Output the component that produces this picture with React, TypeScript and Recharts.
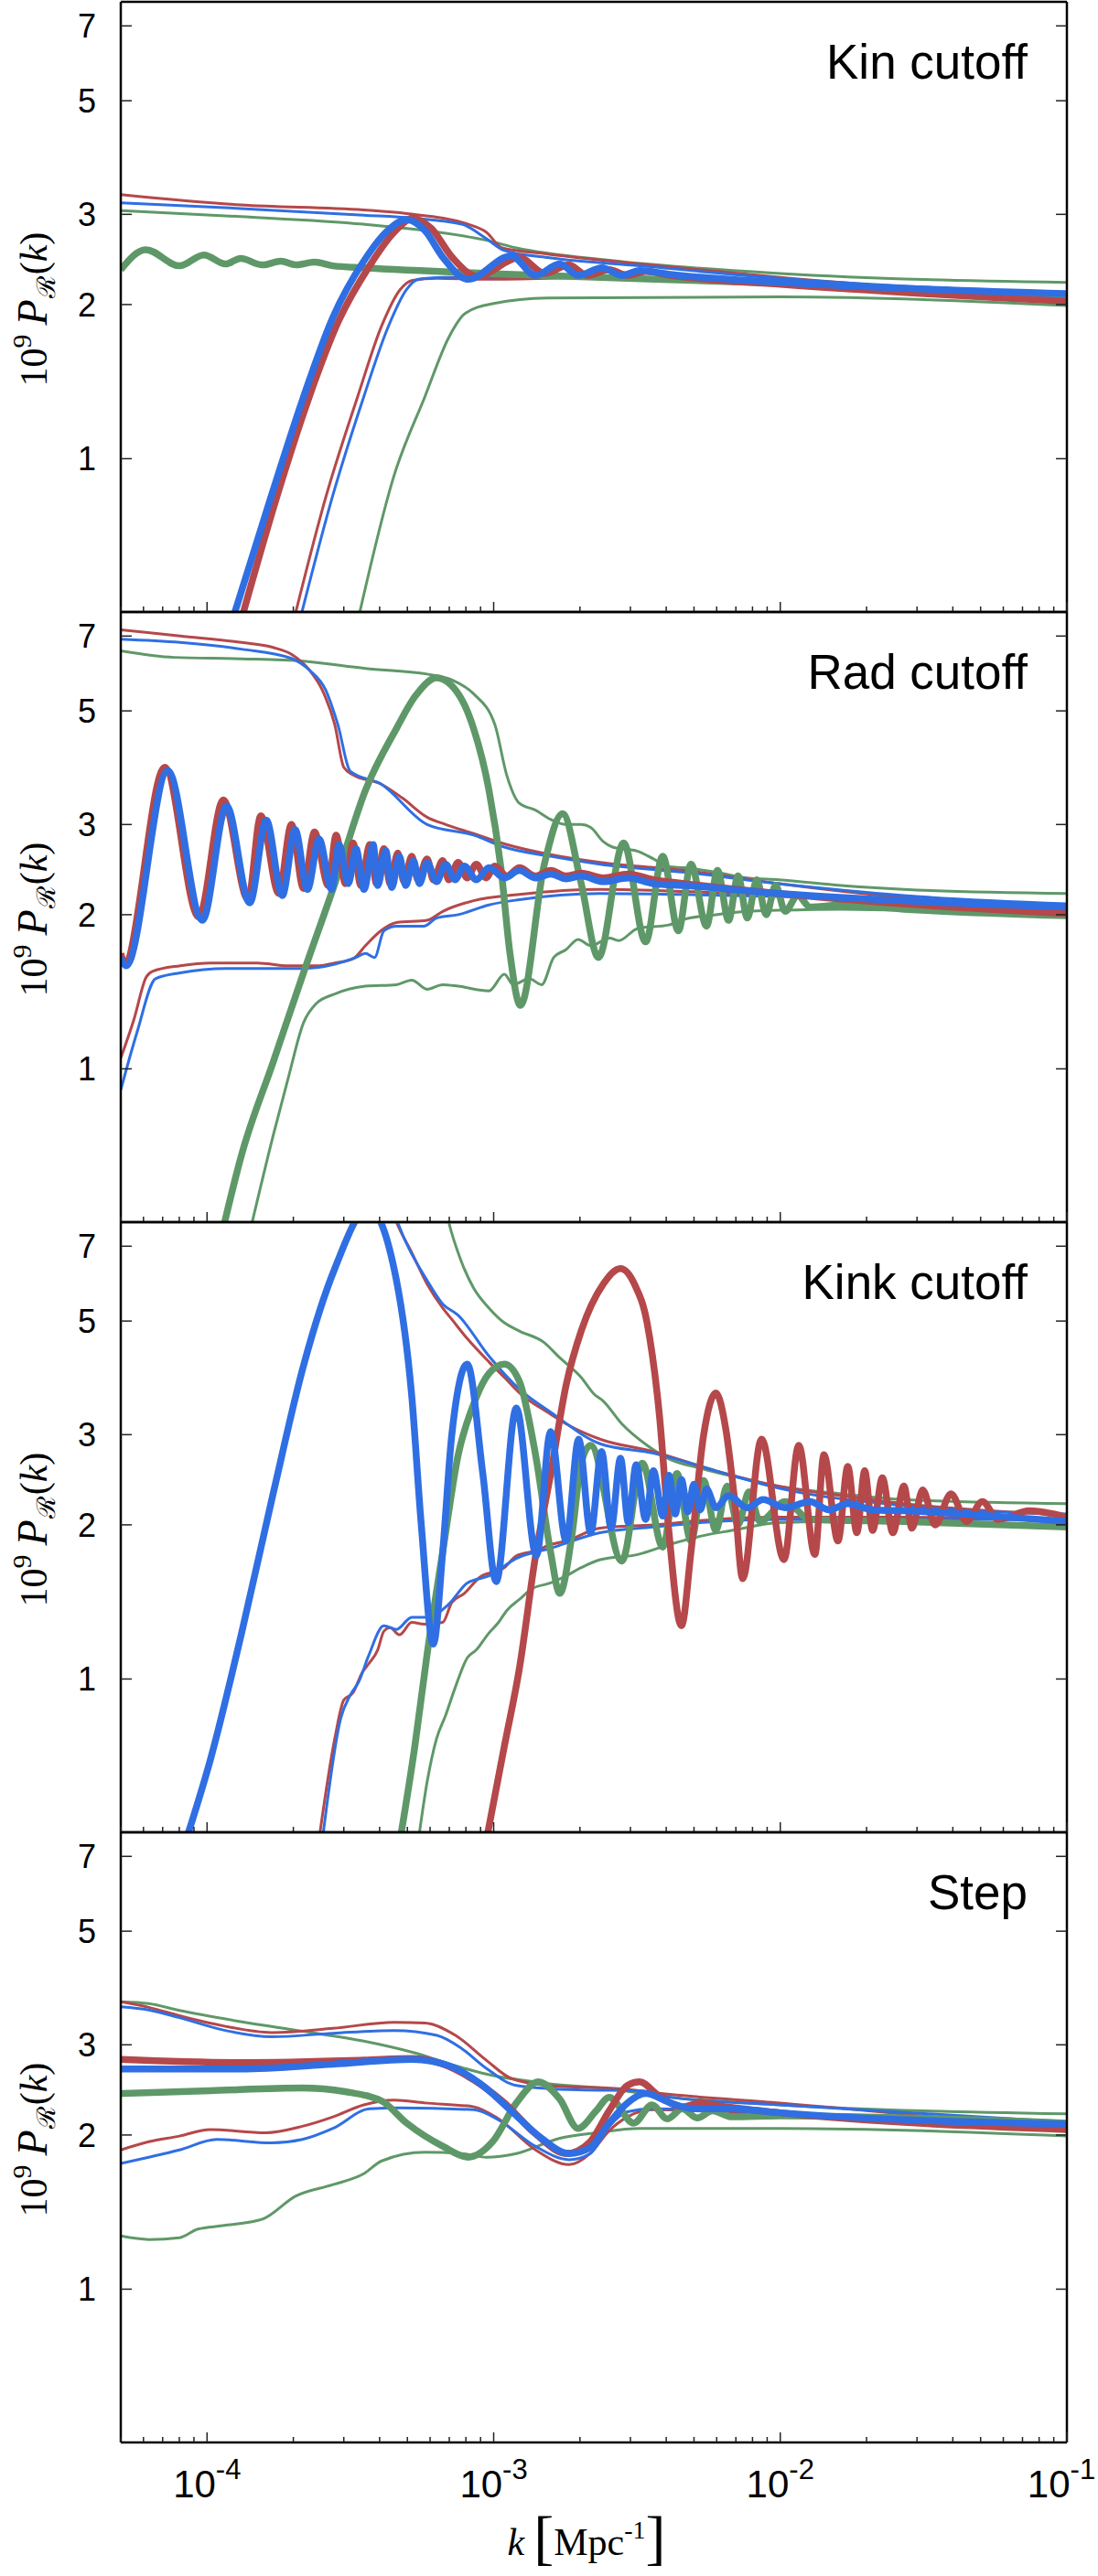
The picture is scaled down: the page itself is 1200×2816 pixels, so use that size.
import { Line, LineChart, XAxis, YAxis } from "recharts"

type Pt = [number, number]

const K_DOMAIN: [number, number] = [5e-5, 0.1]
const P_DOMAIN: [number, number] = [0.502, 7.8]

const kTicks = [
  5e-5, 6e-5, 7e-5, 8e-5, 9e-5,
  1e-4, 2e-4, 3e-4, 4e-4, 5e-4, 6e-4, 7e-4, 8e-4, 9e-4,
  1e-3, 2e-3, 3e-3, 4e-3, 5e-3, 6e-3, 7e-3, 8e-3, 9e-3,
  1e-2, 2e-2, 3e-2, 4e-2, 5e-2, 6e-2, 7e-2, 8e-2, 9e-2,
  1e-1,
]
const pTicks = [1, 2, 3, 5, 7]
const panelTitles = ["Kin cutoff", "Rad cutoff", "Kink cutoff", "Step"]

// Kin cutoff
const kinThinRedUp: Pt[] = [[5e-5,3.28],[1.31e-4,3.13],[3.52e-4,3.06],[4.97e-4,3.01],[8.14e-4,2.87],[9.42e-4,2.77],[1.07e-3,2.58],[1.54e-3,2.51],[3.23e-3,2.4],[1e-2,2.26],[0.1,2.05]]
const kinThinBlueUp: Pt[] = [[5e-5,3.16],[1.31e-4,3.08],[3.52e-4,2.99],[5.21e-4,2.95],[7.74e-4,2.87],[9.42e-4,2.69],[1.09e-3,2.55],[1.54e-3,2.47],[3.23e-3,2.38],[1e-2,2.25],[0.1,2.1]]
const kinThinGreenUp: Pt[] = [[5e-5,3.05],[1.31e-4,2.97],[3.52e-4,2.87],[5.75e-4,2.79],[9.42e-4,2.67],[1.2e-3,2.58],[2.53e-3,2.44],[1e-2,2.3],[0.1,2.21]]
const kinThinRedLow: Pt[] = [[2.0e-4,0.48],[2.61e-4,0.85],[3.35e-4,1.32],[4.07e-4,1.82],[4.72e-4,2.14],[5.21e-4,2.23],[6.34e-4,2.25],[9.42e-4,2.24],[2.53e-3,2.26],[1e-2,2.2],[0.1,2.02]]
const kinThinBlueLow: Pt[] = [[2.1e-4,0.48],[2.75e-4,0.85],[3.52e-4,1.32],[4.27e-4,1.8],[4.97e-4,2.14],[5.46e-4,2.24],[6.66e-4,2.26],[1.54e-3,2.27],[1e-2,2.22],[0.1,2.08]]
const kinThinGreenLow: Pt[] = [[3.35e-4,0.48],[4.5e-4,0.93],[5.75e-4,1.32],[6.99e-4,1.73],[7.94e-4,1.92],[1e-3,2.01],[1.54e-3,2.06],[1e-2,2.07],[0.1,1.99]]
const kinThickGreen: Pt[] = [[5e-5,2.34],[6.11e-5,2.56],[8.01e-5,2.38],[9.75e-5,2.5],[1.16e-4,2.4],[1.31e-4,2.46],[1.56e-4,2.39],[1.81e-4,2.43],[2.04e-4,2.39],[2.37e-4,2.42],[2.75e-4,2.38],[3.52e-4,2.36],[9.42e-4,2.3],[1e-2,2.2],[0.1,2.08]]
const kinThickRed: Pt[] = [[1.31e-4,0.48],[1.76e-4,0.85],[2.25e-4,1.3],[2.88e-4,1.86],[3.69e-4,2.38],[4.5e-4,2.77],[5.21e-4,2.95],[6.04e-4,2.82],[7.18e-4,2.47],[8.76e-4,2.27],[1.23e-3,2.47],[1.51e-3,2.3],[1.83e-3,2.39],[2.12e-3,2.28],[2.53e-3,2.34],[2.93e-3,2.28],[3.39e-3,2.32],[4.14e-3,2.28],[1e-2,2.19],[0.1,2.03]]
const kinThickBlue: Pt[] = [[1.22e-4,0.48],[1.68e-4,0.85],[2.15e-4,1.3],[2.75e-4,1.89],[3.52e-4,2.43],[4.27e-4,2.79],[4.97e-4,2.93],[5.75e-4,2.79],[6.66e-4,2.47],[8.14e-4,2.24],[1.15e-3,2.49],[1.4e-3,2.28],[1.7e-3,2.4],[1.97e-3,2.28],[2.39e-3,2.36],[2.79e-3,2.28],[3.23e-3,2.33],[4.14e-3,2.29],[1e-2,2.21],[0.1,2.1]]

// Rad cutoff
const radThinRedUp: Pt[] = [[5e-5,7.2],[8.06e-5,7.0],[1.32e-4,6.8],[1.7e-4,6.65],[1.97e-4,6.45],[2.28e-4,6.0],[2.52e-4,5.5],[2.79e-4,4.7],[3.0e-4,3.88],[3.23e-4,3.75],[4.04e-4,3.6],[4.8e-4,3.38],[5.86e-4,3.1],[6.8e-4,3.0],[8.51e-4,2.88],[1.09e-3,2.75],[1.58e-3,2.62],[2.35e-3,2.53],[4.64e-3,2.44],[9.88e-3,2.3],[2.7e-2,2.16],[0.1,2.05]]
const radThinBlueUp: Pt[] = [[5e-5,6.9],[8.06e-5,6.8],[1.32e-4,6.6],[1.97e-4,6.33],[2.28e-4,6.0],[2.59e-4,5.5],[2.86e-4,4.7],[3.16e-4,3.81],[4.04e-4,3.6],[5.86e-4,3.0],[8.51e-4,2.86],[1.09e-3,2.71],[1.58e-3,2.6],[2.35e-3,2.51],[4.64e-3,2.42],[9.88e-3,2.3],[2.7e-2,2.18],[0.1,2.1]]
const radThinGreenUp: Pt[] = [[5e-5,6.55],[7.67e-5,6.36],[1.32e-4,6.32],[2.17e-4,6.25],[3.57e-4,6.05],[5.86e-4,5.9],[7.14e-4,5.75],[8.51e-4,5.4],[1.01e-3,4.7],[1.11e-3,3.75],[1.23e-3,3.3],[1.4e-3,3.2],[1.58e-3,3.07],[1.79e-3,3.0],[2.02e-3,3.0],[2.18e-3,2.96],[2.41e-3,2.78],[2.6e-3,2.71],[3.18e-3,2.66],[3.61e-3,2.57],[4.09e-3,2.48],[4.64e-3,2.47],[5.96e-3,2.42],[7.68e-3,2.36],[9.88e-3,2.34],[1.63e-2,2.28],[2.7e-2,2.24],[0.1,2.2]]
const radThinRedLow: Pt[] = [[5e-5,1.05],[5.56e-5,1.25],[6.13e-5,1.51],[6.45e-5,1.55],[8.06e-5,1.59],[1.03e-4,1.61],[1.5e-4,1.61],[1.92e-4,1.59],[2.46e-4,1.59],[2.79e-4,1.61],[3.23e-4,1.64],[3.57e-4,1.74],[4.04e-4,1.86],[4.58e-4,1.93],[5.86e-4,1.95],[6.64e-4,2.03],[8.51e-4,2.13],[1.23e-3,2.19],[2.35e-3,2.24],[4.64e-3,2.22],[9.88e-3,2.18],[2.7e-2,2.13],[0.1,2.03]]
const radThinBlueLow: Pt[] = [[5e-5,0.91],[5.7e-5,1.18],[6.61e-5,1.5],[8.06e-5,1.54],[1.17e-4,1.57],[1.7e-4,1.57],[2.17e-4,1.57],[2.79e-4,1.6],[3.31e-4,1.65],[3.57e-4,1.68],[3.84e-4,1.65],[4.14e-4,1.86],[4.58e-4,1.9],[5.72e-4,1.9],[6.32e-4,1.97],[7.52e-4,2.0],[9.63e-4,2.09],[1.23e-3,2.14],[2.35e-3,2.2],[4.64e-3,2.19],[9.88e-3,2.17],[2.7e-2,2.12],[0.1,2.05]]
const radThinGreenLow: Pt[] = [[1.41e-4,0.48],[1.7e-4,0.74],[1.92e-4,0.96],[2.17e-4,1.23],[2.4e-4,1.34],[2.79e-4,1.4],[3.57e-4,1.45],[4.58e-4,1.46],[5.18e-4,1.49],[5.86e-4,1.43],[6.64e-4,1.46],[7.52e-4,1.45],[9.63e-4,1.42],[1.09e-3,1.53],[1.17e-3,1.46],[1.33e-3,1.5],[1.47e-3,1.46],[1.62e-3,1.65],[1.79e-3,1.71],[1.97e-3,1.79],[2.18e-3,1.74],[2.54e-3,1.8],[2.73e-3,1.78],[3.18e-3,1.88],[4.09e-3,1.91],[4.64e-3,1.96],[5.96e-3,2.0],[7.68e-3,2.03],[9.88e-3,2.04],[1.63e-2,2.05],[2.7e-2,2.04],[0.1,1.98]]
const radThickGreen: Pt[] = [[1.13e-4,0.48],[1.32e-4,0.68],[1.7e-4,1.03],[2.17e-4,1.54],[2.79e-4,2.3],[3.57e-4,3.5],[4.58e-4,4.62],[5.31e-4,5.33],[6.32e-4,5.8],[7.52e-4,5.4],[8.51e-4,4.62],[9.63e-4,3.5],[1.06e-3,2.47],[1.14e-3,1.68],[1.24e-3,1.33],[1.5e-3,2.5],[1.74e-3,3.15],[2.02e-3,2.3],[2.32e-3,1.65],[2.84e-3,2.76],[3.39e-3,1.77],[3.89e-3,2.6],[4.41e-3,1.86],[4.88e-3,2.51],[5.53e-3,1.9],[6.04e-3,2.44],[6.6e-3,1.95],[7.12e-3,2.38],[7.68e-3,1.97],[8.28e-3,2.34],[8.93e-3,2.0],[9.63e-3,2.28],[1.04e-2,2.03],[1.15e-2,2.18],[1.27e-2,2.07],[1.63e-2,2.09],[2.7e-2,2.05],[0.1,1.99]]
const radThickRed: Pt[] = [[5e-5,1.68],[5.15e-5,1.61],[7.12e-5,3.88],[9.35e-5,1.98],[1.14e-4,3.35],[1.39e-4,2.14],[1.54e-4,3.12],[1.78e-4,2.2],[1.97e-4,3.0],[2.17e-4,2.25],[2.37e-4,2.9],[2.65e-4,2.28],[2.82e-4,2.86],[3.04e-4,2.3],[3.23e-4,2.76],[3.44e-4,2.28],[3.7e-4,2.74],[3.9e-4,2.3],[4.14e-4,2.69],[4.35e-4,2.3],[4.63e-4,2.64],[4.86e-4,2.32],[5.18e-4,2.6],[5.44e-4,2.34],[5.86e-4,2.57],[6.16e-4,2.34],[6.64e-4,2.55],[6.97e-4,2.34],[7.52e-4,2.53],[8.08e-4,2.36],[8.7e-4,2.51],[9.4e-4,2.36],[1.01e-3,2.49],[1.11e-3,2.38],[1.23e-3,2.47],[1.4e-3,2.38],[1.58e-3,2.44],[1.79e-3,2.38],[2.02e-3,2.41],[2.41e-3,2.36],[2.95e-3,2.4],[3.61e-3,2.34],[4.64e-3,2.3],[9.88e-3,2.2],[2.7e-2,2.1],[0.1,2.01]]
const radThickBlue: Pt[] = [[5e-5,1.65],[5.22e-5,1.59],[7.3e-5,3.82],[9.63e-5,1.95],[1.17e-4,3.26],[1.41e-4,2.11],[1.61e-4,3.06],[1.83e-4,2.18],[2.03e-4,2.93],[2.24e-4,2.24],[2.46e-4,2.81],[2.72e-4,2.24],[2.89e-4,2.74],[3.11e-4,2.3],[3.31e-4,2.69],[3.53e-4,2.24],[3.8e-4,2.74],[3.94e-4,2.28],[4.2e-4,2.67],[4.41e-4,2.26],[4.69e-4,2.6],[4.93e-4,2.28],[5.25e-4,2.55],[5.51e-4,2.3],[5.86e-4,2.53],[6.32e-4,2.32],[6.8e-4,2.51],[7.33e-4,2.34],[7.9e-4,2.49],[8.7e-4,2.34],[9.63e-4,2.47],[1.09e-3,2.36],[1.23e-3,2.44],[1.4e-3,2.36],[1.58e-3,2.4],[1.79e-3,2.35],[2.02e-3,2.38],[2.41e-3,2.32],[2.95e-3,2.36],[3.61e-3,2.3],[4.64e-3,2.28],[9.88e-3,2.2],[2.7e-2,2.13],[0.1,2.07]]

// Kink cutoff
const kinkThinRedUp: Pt[] = [[4.3e-4,8.6],[4.58e-4,7.8],[5.18e-4,6.8],[5.86e-4,5.9],[6.64e-4,5.3],[7.14e-4,5.04],[8.09e-4,4.62],[9.63e-4,4.16],[1.09e-3,3.88],[1.23e-3,3.62],[1.58e-3,3.29],[1.79e-3,3.15],[2.35e-3,2.94],[3.61e-3,2.78],[5.96e-3,2.55],[9.88e-3,2.38],[1.63e-2,2.28],[2.7e-2,2.2],[0.1,2.09]]
const kinkThinBlueUp: Pt[] = [[4.35e-4,8.6],[4.62e-4,7.8],[5.86e-4,6.0],[6.64e-4,5.4],[7.52e-4,5.13],[9.63e-4,4.27],[1.23e-3,3.68],[1.58e-3,3.32],[2.35e-3,2.88],[3.61e-3,2.76],[5.96e-3,2.55],[9.88e-3,2.36],[2.7e-2,2.18],[0.1,2.1]]
const kinkThinGreenUp: Pt[] = [[6.7e-4,8.6],[6.97e-4,7.8],[7.7e-4,6.55],[8.51e-4,5.8],[9.63e-4,5.3],[1.09e-3,4.96],[1.23e-3,4.78],[1.5e-3,4.54],[1.7e-3,4.24],[2.02e-3,3.88],[2.24e-3,3.6],[2.41e-3,3.49],[2.8e-3,3.15],[3.43e-3,2.86],[4.09e-3,2.69],[5.26e-3,2.58],[6.77e-3,2.49],[9.88e-3,2.38],[1.63e-2,2.3],[2.7e-2,2.24],[0.1,2.2]]
const kinkThinRedLow: Pt[] = [[2.45e-4,0.48],[2.79e-4,0.765],[3.0e-4,0.91],[3.23e-4,0.94],[3.48e-4,1.03],[3.66e-4,1.07],[3.94e-4,1.14],[4.14e-4,1.24],[4.35e-4,1.26],[4.69e-4,1.22],[5.18e-4,1.29],[5.72e-4,1.28],[6.64e-4,1.29],[7.14e-4,1.41],[7.9e-4,1.47],[8.94e-4,1.58],[1.09e-3,1.65],[1.2e-3,1.74],[1.4e-3,1.78],[1.58e-3,1.83],[1.79e-3,1.86],[2.35e-3,1.97],[3.61e-3,2.0],[5.96e-3,2.05],[9.88e-3,2.07],[2.7e-2,2.07],[0.1,2.03]]
const kinkThinBlueLow: Pt[] = [[2.52e-4,0.48],[2.93e-4,0.84],[3.16e-4,0.93],[3.39e-4,0.99],[3.66e-4,1.11],[4.14e-4,1.27],[4.58e-4,1.25],[5.18e-4,1.32],[5.86e-4,1.32],[6.97e-4,1.4],[8.09e-4,1.54],[9.63e-4,1.59],[1.2e-3,1.72],[1.58e-3,1.8],[2.35e-3,1.93],[3.61e-3,1.98],[5.96e-3,2.03],[9.88e-3,2.05],[2.7e-2,2.05],[0.1,2.05]]
const kinkThinGreenLow: Pt[] = [[5.45e-4,0.48],[5.86e-4,0.63],[6.32e-4,0.765],[6.8e-4,0.85],[7.33e-4,0.96],[8.09e-4,1.1],[8.7e-4,1.14],[9.63e-4,1.23],[1.04e-3,1.29],[1.11e-3,1.36],[1.23e-3,1.43],[1.36e-3,1.5],[1.58e-3,1.54],[1.79e-3,1.59],[2.02e-3,1.65],[2.35e-3,1.71],[3.18e-3,1.75],[4.09e-3,1.83],[5.26e-3,1.9],[6.77e-3,1.95],[9.88e-3,2.02],[1.63e-2,2.03],[0.1,1.98]]
const kinkThickGreen: Pt[] = [[4.7e-4,0.48],[5.31e-4,0.74],[5.86e-4,1.12],[6.64e-4,1.77],[7.52e-4,2.74],[8.51e-4,3.44],[9.63e-4,3.95],[1.09e-3,4.12],[1.23e-3,3.81],[1.4e-3,2.74],[1.58e-3,1.77],[1.7e-3,1.47],[1.88e-3,1.93],[2.02e-3,2.64],[2.18e-3,2.86],[2.8e-3,1.7],[3.3e-3,2.64],[3.89e-3,1.81],[4.36e-3,2.52],[4.88e-3,1.86],[5.4e-3,2.44],[5.96e-3,1.95],[6.52e-3,2.38],[7.12e-3,2.0],[7.78e-3,2.32],[8.49e-3,2.03],[1.04e-2,2.22],[1.27e-2,2.05],[2.7e-2,2.03],[0.1,1.98]]
const kinkThickRed: Pt[] = [[9.4e-4,0.48],[1.09e-3,0.74],[1.23e-3,1.05],[1.4e-3,1.74],[1.58e-3,2.51],[1.79e-3,3.75],[2.02e-3,4.78],[2.41e-3,5.9],[2.77e-3,6.33],[3.1e-3,5.9],[3.43e-3,4.96],[3.79e-3,3.26],[4.09e-3,1.93],[4.52e-3,1.27],[4.88e-3,1.77],[5.4e-3,2.99],[5.96e-3,3.62],[6.44e-3,3.1],[6.94e-3,2.22],[7.39e-3,1.57],[8.6e-3,2.94],[1.03e-2,1.71],[1.16e-2,2.86],[1.32e-2,1.75],[1.42e-2,2.74],[1.59e-2,1.86],[1.72e-2,2.6],[1.85e-2,1.93],[1.97e-2,2.55],[2.1e-2,1.95],[2.27e-2,2.47],[2.47e-2,1.93],[2.7e-2,2.38],[2.88e-2,1.97],[3.14e-2,2.34],[3.47e-2,2.0],[3.94e-2,2.3],[4.47e-2,2.03],[5.07e-2,2.22],[5.75e-2,2.05],[7.4e-2,2.13],[0.1,2.07]]
const kinkThickBlue: Pt[] = [[8.4e-5,0.48],[1.03e-4,0.7],[1.32e-4,1.23],[1.7e-4,2.3],[2.17e-4,4.09],[2.79e-4,6.33],[3.66e-4,8.3],[4.58e-4,6.0],[5.18e-4,3.56],[5.59e-4,2.0],[6.16e-4,1.17],[6.64e-4,1.77],[7.14e-4,2.99],[8.09e-4,4.12],[9.17e-4,2.51],[1.02e-3,1.55],[1.2e-3,3.38],[1.41e-3,1.74],[1.58e-3,3.04],[1.79e-3,1.86],[1.98e-3,2.94],[2.18e-3,1.93],[2.38e-3,2.78],[2.57e-3,1.97],[2.77e-3,2.7],[2.95e-3,2.02],[3.14e-3,2.62],[3.39e-3,2.05],[3.61e-3,2.55],[3.89e-3,2.08],[4.09e-3,2.5],[4.3e-3,2.1],[4.52e-3,2.45],[4.76e-3,2.12],[4.99e-3,2.4],[5.26e-3,2.14],[5.53e-3,2.35],[5.96e-3,2.16],[6.6e-3,2.28],[7.68e-3,2.16],[8.71e-3,2.24],[1.04e-2,2.16],[1.27e-2,2.22],[1.48e-2,2.14],[1.72e-2,2.2],[2.1e-2,2.14],[2.7e-2,2.13],[0.1,2.03]]

// Step
const stepThinRedUp: Pt[] = [[5e-5,3.64],[6.26e-5,3.55],[8.01e-5,3.42],[1.13e-4,3.27],[1.68e-4,3.17],[2.75e-4,3.23],[4.5e-4,3.32],[5.75e-4,3.31],[7.36e-4,3.13],[9.42e-4,2.8],[1.15e-3,2.58],[1.54e-3,2.5],[2.79e-3,2.46],[4.14e-3,2.4],[1e-2,2.31],[0.1,2.04]]
const stepThinBlueUp: Pt[] = [[5e-5,3.56],[6.26e-5,3.51],[8.01e-5,3.39],[1.13e-4,3.21],[1.68e-4,3.11],[2.75e-4,3.16],[4.5e-4,3.2],[6.34e-4,3.13],[7.74e-4,2.95],[9.42e-4,2.7],[1.2e-3,2.5],[1.97e-3,2.45],[3.23e-3,2.44],[4.14e-3,2.37],[1e-2,2.29],[0.1,2.12]]
const stepThinGreenUp: Pt[] = [[5e-5,3.64],[6.26e-5,3.61],[8.01e-5,3.5],[1.31e-4,3.33],[2.15e-4,3.19],[3.52e-4,3.05],[5.21e-4,2.9],[7.36e-4,2.73],[9.42e-4,2.63],[1.54e-3,2.52],[2.53e-3,2.46],[4.14e-3,2.37],[1e-2,2.29],[0.1,2.2]]
const stepThinRedLow: Pt[] = [[5e-5,1.87],[6.26e-5,1.94],[8.01e-5,1.99],[1.025e-4,2.05],[1.6e-4,2.02],[2.15e-4,2.08],[2.75e-4,2.17],[3.52e-4,2.29],[4.5e-4,2.34],[5.75e-4,2.31],[8.54e-4,2.27],[1.04e-3,2.15],[1.4e-3,1.87],[1.83e-3,1.75],[2.17e-3,1.84],[2.53e-3,2.04],[2.93e-3,2.17],[3.57e-3,2.24],[1e-2,2.19],[0.1,2.04]]
const stepThinBlueLow: Pt[] = [[5e-5,1.76],[6.26e-5,1.81],[8.01e-5,1.87],[1.08e-4,1.96],[1.68e-4,1.93],[2.15e-4,1.96],[2.75e-4,2.06],[3.69e-4,2.25],[4.72e-4,2.26],[8.54e-4,2.24],[1.04e-3,2.14],[1.4e-3,1.9],[1.83e-3,1.79],[2.17e-3,1.84],[2.53e-3,2.08],[2.93e-3,2.22],[3.57e-3,2.25],[1e-2,2.21],[0.1,2.08]]
const stepThinGreenLow: Pt[] = [[5e-5,1.27],[6.26e-5,1.25],[8.01e-5,1.26],[9.29e-5,1.31],[1.13e-4,1.33],[1.56e-4,1.37],[2.04e-4,1.52],[2.75e-4,1.6],[3.52e-4,1.68],[4.07e-4,1.78],[5.75e-4,1.85],[7.74e-4,1.84],[9.42e-4,1.81],[1.2e-3,1.84],[1.7e-3,1.97],[2.28e-3,2.02],[3.23e-3,2.06],[1e-2,2.06],[0.1,1.99]]
const stepThickGreen: Pt[] = [[5e-5,2.41],[1.025e-4,2.44],[2.15e-4,2.47],[3.03e-4,2.43],[4.07e-4,2.33],[4.97e-4,2.11],[6.66e-4,1.9],[8.14e-4,1.81],[9.91e-4,1.94],[1.2e-3,2.31],[1.43e-3,2.54],[1.7e-3,2.35],[1.97e-3,2.06],[2.28e-3,2.23],[2.53e-3,2.37],[3.08e-3,2.11],[3.57e-3,2.29],[4.03e-3,2.15],[4.55e-3,2.25],[5.13e-3,2.16],[5.8e-3,2.23],[6.78e-3,2.17],[1e-2,2.18],[0.1,2.11]]
const stepThickRed: Pt[] = [[5e-5,2.81],[1.31e-4,2.77],[3.52e-4,2.8],[5.21e-4,2.82],[6.66e-4,2.75],[8.54e-4,2.56],[1.09e-3,2.31],[1.4e-3,2.01],[1.79e-3,1.84],[2.17e-3,1.94],[2.53e-3,2.23],[2.93e-3,2.5],[3.23e-3,2.54],[3.75e-3,2.39],[4.55e-3,2.27],[5.26e-3,2.31],[6.08e-3,2.28],[1e-2,2.21],[0.1,2.05]]
const stepThickBlue: Pt[] = [[5e-5,2.69],[1.31e-4,2.69],[2.75e-4,2.75],[5.21e-4,2.81],[6.99e-4,2.73],[8.98e-4,2.52],[1.15e-3,2.23],[1.47e-3,1.97],[1.83e-3,1.84],[2.17e-3,1.89],[2.53e-3,2.11],[2.93e-3,2.31],[3.39e-3,2.41],[4.14e-3,2.31],[5.0e-3,2.25],[6.78e-3,2.25],[1e-2,2.21],[0.1,2.1]]

const RED = "#b5484a"
const BLUE = "#2f6fe3"
const GREEN = "#5f9868"
const THIN = 3
const THICK = 7.5

type Series = { id: string; pts: Pt[]; color: string; width: number }

const panelSeries: Series[][] = [
  [
    { id: "gu", pts: kinThinGreenUp, color: GREEN, width: THIN },
    { id: "gl", pts: kinThinGreenLow, color: GREEN, width: THIN },
    { id: "ru", pts: kinThinRedUp, color: RED, width: THIN },
    { id: "rl", pts: kinThinRedLow, color: RED, width: THIN },
    { id: "bu", pts: kinThinBlueUp, color: BLUE, width: THIN },
    { id: "bl", pts: kinThinBlueLow, color: BLUE, width: THIN },
    { id: "g", pts: kinThickGreen, color: GREEN, width: THICK },
    { id: "r", pts: kinThickRed, color: RED, width: THICK },
    { id: "b", pts: kinThickBlue, color: BLUE, width: THICK },
  ],
  [
    { id: "gu", pts: radThinGreenUp, color: GREEN, width: THIN },
    { id: "gl", pts: radThinGreenLow, color: GREEN, width: THIN },
    { id: "ru", pts: radThinRedUp, color: RED, width: THIN },
    { id: "rl", pts: radThinRedLow, color: RED, width: THIN },
    { id: "bu", pts: radThinBlueUp, color: BLUE, width: THIN },
    { id: "bl", pts: radThinBlueLow, color: BLUE, width: THIN },
    { id: "g", pts: radThickGreen, color: GREEN, width: THICK },
    { id: "r", pts: radThickRed, color: RED, width: THICK },
    { id: "b", pts: radThickBlue, color: BLUE, width: THICK },
  ],
  [
    { id: "gu", pts: kinkThinGreenUp, color: GREEN, width: THIN },
    { id: "gl", pts: kinkThinGreenLow, color: GREEN, width: THIN },
    { id: "ru", pts: kinkThinRedUp, color: RED, width: THIN },
    { id: "rl", pts: kinkThinRedLow, color: RED, width: THIN },
    { id: "bu", pts: kinkThinBlueUp, color: BLUE, width: THIN },
    { id: "bl", pts: kinkThinBlueLow, color: BLUE, width: THIN },
    { id: "g", pts: kinkThickGreen, color: GREEN, width: THICK },
    { id: "r", pts: kinkThickRed, color: RED, width: THICK },
    { id: "b", pts: kinkThickBlue, color: BLUE, width: THICK },
  ],
  [
    { id: "gu", pts: stepThinGreenUp, color: GREEN, width: THIN },
    { id: "gl", pts: stepThinGreenLow, color: GREEN, width: THIN },
    { id: "ru", pts: stepThinRedUp, color: RED, width: THIN },
    { id: "rl", pts: stepThinRedLow, color: RED, width: THIN },
    { id: "bu", pts: stepThinBlueUp, color: BLUE, width: THIN },
    { id: "bl", pts: stepThinBlueLow, color: BLUE, width: THIN },
    { id: "g", pts: stepThickGreen, color: GREEN, width: THICK },
    { id: "r", pts: stepThickRed, color: RED, width: THICK },
    { id: "b", pts: stepThickBlue, color: BLUE, width: THICK },
  ],
]

const PANEL_H = 667
const SANS = "'Liberation Sans', Arial, Helvetica, sans-serif"
const SERIF = "'Liberation Serif', 'DejaVu Serif', 'Times New Roman', serif"
const frame = { stroke: "#000", strokeWidth: 2.5 }
const tickStroke = "#222"

function decade(v: number) {
  const e = Math.round(Math.log10(v))
  return Math.abs(Math.log10(v) - e) < 1e-6 ? e : null
}

function BottomTick(props: any) {
  const { x, y, payload, showLabel } = props
  const e = decade(payload.value)
  // keep the rightmost label inside the page
  const lx = Math.min(x, 1160)
  return (
    <g>
      <line x1={x} x2={x} y1={y} y2={y - (e !== null ? 11 : 6)} stroke={tickStroke} strokeWidth={1.5} />
      {showLabel && e !== null && (
        <text x={lx} y={y + 60} textAnchor="middle" fontFamily={SANS} fontSize={42} fill="#000">
          10<tspan dy={-20} fontSize={31}>{e}</tspan>
        </text>
      )}
    </g>
  )
}

function TopTick(props: any) {
  const { x, y, payload } = props
  const e = decade(payload.value)
  return <line x1={x} x2={x} y1={y} y2={y + (e !== null ? 11 : 6)} stroke={tickStroke} strokeWidth={1.5} />
}

function LeftTick(props: any) {
  const { x, y, payload } = props
  return (
    <g>
      <line x1={x} x2={x + 12} y1={y} y2={y} stroke={tickStroke} strokeWidth={1.5} />
      <text x={x - 27} y={y + 13} textAnchor="end" fontFamily={SANS} fontSize={36} fill="#000">
        {payload.value}
      </text>
    </g>
  )
}

function RightTick(props: any) {
  const { x, y } = props
  return <line x1={x} x2={x - 12} y1={y} y2={y} stroke={tickStroke} strokeWidth={1.5} />
}

function Panel({ index }: { index: number }) {
  const last = index === panelSeries.length - 1
  const bottomH = last ? 146 : 2
  const height = 2 + PANEL_H + bottomH
  return (
    <div style={{ position: "absolute", left: 0, top: index * PANEL_H, width: 1200, height }}>
      <LineChart width={1200} height={height} margin={{ top: 0, right: 0, bottom: 0, left: 72 }}>
        <XAxis
          dataKey="k"
          type="number"
          scale="log"
          domain={K_DOMAIN}
          allowDataOverflow
          ticks={kTicks}
          interval={0}
          height={bottomH}
          tickSize={0}
          tickMargin={0}
          tickLine={false}
          axisLine={frame}
          tick={(p: any) => <BottomTick {...p} showLabel={last} />}
        />
        <XAxis
          xAxisId="top"
          orientation="top"
          type="number"
          scale="log"
          domain={K_DOMAIN}
          allowDataOverflow
          ticks={kTicks}
          interval={0}
          height={2}
          tickSize={0}
          tickMargin={0}
          tickLine={false}
          axisLine={frame}
          tick={TopTick}
        />
        <YAxis
          type="number"
          scale="log"
          domain={P_DOMAIN}
          allowDataOverflow
          ticks={pTicks}
          interval={0}
          width={60}
          tickSize={0}
          tickMargin={0}
          tickLine={false}
          axisLine={frame}
          tick={LeftTick}
        />
        <YAxis
          yAxisId="right"
          orientation="right"
          type="number"
          scale="log"
          domain={P_DOMAIN}
          allowDataOverflow
          ticks={pTicks}
          interval={0}
          width={34}
          tickSize={0}
          tickMargin={0}
          tickLine={false}
          axisLine={frame}
          tick={RightTick}
        />
        {panelSeries[index].map((s) => (
          <Line
            key={s.id}
            data={s.pts.map(([k, v]) => ({ k, v }))}
            dataKey="v"
            type="monotone"
            stroke={s.color}
            strokeWidth={s.width}
            strokeLinejoin="round"
            dot={false}
            activeDot={false}
            isAnimationActive={false}
          />
        ))}
      </LineChart>
    </div>
  )
}

function Labels() {
  return (
    <svg width={1200} height={2816} style={{ position: "absolute", left: 0, top: 0, pointerEvents: "none" }}>
      {panelTitles.map((t, i) => {
        const top = 2 + i * PANEL_H
        return (
          <g key={t}>
            <text x={1123} y={top + 84} textAnchor="end" fontFamily={SANS} fontSize={53} fill="#000">
              {t}
            </text>
            <text
              transform={`translate(51, ${top + 336}) rotate(-90)`}
              textAnchor="middle"
              fontFamily={SERIF}
              fontSize={42}
              fill="#000"
            >
              10<tspan dy={-17} fontSize={30}>9</tspan>
              <tspan dy={17} dx={10} fontStyle="italic" fontSize={46}>P</tspan>
              <tspan dy={9} dx={1} fontSize={28}>ℛ</tspan>
              <tspan dy={-9} dx={2}>(</tspan>
              <tspan fontStyle="italic">k</tspan>
              <tspan>)</tspan>
            </text>
          </g>
        )
      })}
      <text x={641} y={2793} textAnchor="middle" fontFamily={SERIF} fontSize={42} fill="#000">
        <tspan fontStyle="italic">k</tspan>
        <tspan dx={10} dy={3} fontSize={66}>[</tspan>
        <tspan dy={-3}>Mpc</tspan>
        <tspan dy={-18} fontSize={28}>-1</tspan>
        <tspan dy={21} fontSize={66}>]</tspan>
      </text>
    </svg>
  )
}

export default function App() {
  return (
    <div style={{ position: "absolute", left: 0, top: 0, width: 1200, height: 2816, background: "#fff" }}>
      {panelSeries.map((_, i) => (
        <Panel key={i} index={i} />
      ))}
      <Labels />
    </div>
  )
}
